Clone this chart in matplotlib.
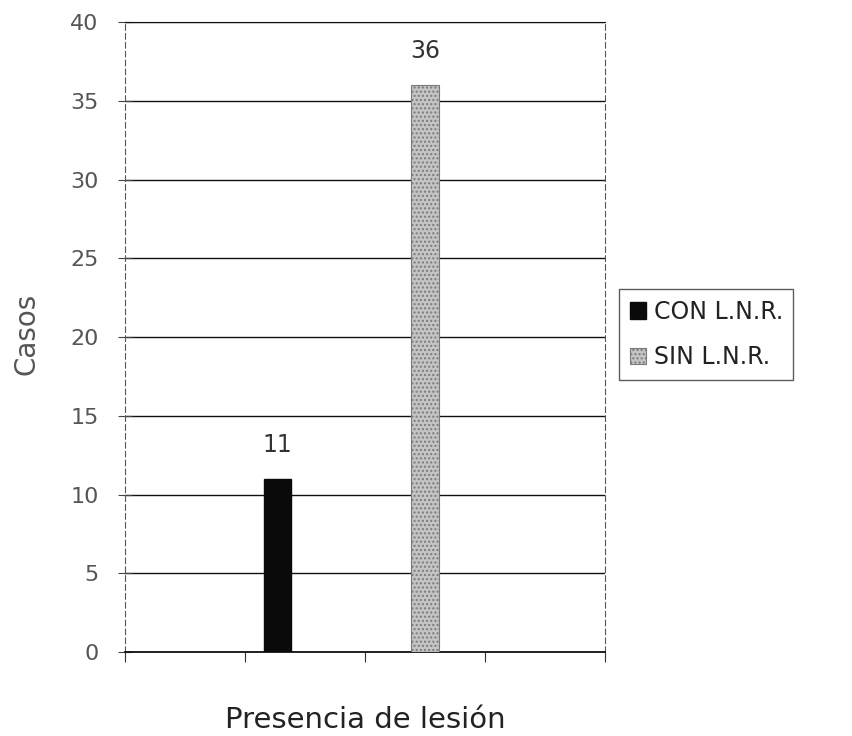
import matplotlib
matplotlib.use("Agg")
import matplotlib.pyplot as plt

series = ["CON L.N.R.", "SIN L.N.R."]
values = [11, 36]
yticks = [0, 5, 10, 15, 20, 25, 30, 35, 40]
xlabel = "Presencia de lesión"
ylabel = "Casos"

plt.rcParams['font.family'] = ['Liberation Sans', 'DejaVu Sans']

fig = plt.figure(figsize=(8.53, 7.36), dpi=100)
ax = fig.add_axes([0.1465, 0.114, 0.5625, 0.856])

xpos = [1.27, 2.5]
width = 0.23
b1 = ax.bar(xpos[0], values[0], width=width, color='#0a0a0a', edgecolor='#0a0a0a',
            label=series[0], zorder=3)
b2 = ax.bar(xpos[1], values[1], width=width, facecolor='#c4c4c4', edgecolor='#7a7a7a',
            hatch='....', linewidth=0.8, label=series[1], zorder=3)

for x, v in zip(xpos, values):
    ax.annotate(str(v), (x, v), xytext=(0, 16), textcoords='offset points',
                ha='center', va='bottom', fontsize=17, color='#333333',
                family=['DejaVu Sans'])

ax.set_xlim(0, 4)
ax.set_ylim(0, 40)
ax.set_yticks(yticks)
ax.set_xticks([0, 1, 2, 3, 4])
ax.set_xticklabels([])
ax.tick_params(axis='x', length=7, direction='out', color='#333333')
ax.tick_params(axis='y', length=10, direction='inout', pad=14, labelsize=16,
               labelcolor='#555555', color='#444444')
for lab in ax.get_yticklabels():
    lab.set_family(['DejaVu Sans'])
ax.yaxis.grid(True, color='#111111', linewidth=1.0, zorder=0)
ax.set_axisbelow(True)

ax.spines['top'].set_color('#111111')
ax.spines['bottom'].set_color('#111111')
ax.spines['bottom'].set_linewidth(1.3)
ax.spines['left'].set_linestyle((0, (5, 3)))
ax.spines['left'].set_color('#555555')
ax.spines['right'].set_linestyle((0, (5, 3)))
ax.spines['right'].set_color('#555555')

ax.set_ylabel(ylabel, fontsize=20, color='#555555', family=['DejaVu Sans'])
ax.yaxis.set_label_coords(-0.175, 0.505)
ax.set_xlabel(xlabel, fontsize=21, color='#222222', family=['DejaVu Sans'])
ax.xaxis.set_label_coords(0.5, -0.086)

leg = fig.legend(handles=[b1, b2], labels=series, loc='upper left',
                 bbox_to_anchor=(0.726, 0.607), frameon=True,
                 prop={'family': 'DejaVu Sans', 'size': 17},
                 fancybox=False, handlelength=0.7, handleheight=0.7,
                 handletextpad=0.3, borderpad=0.45, labelspacing=0.9,
                 borderaxespad=0, labelcolor='#222222')
leg.get_frame().set_edgecolor('#333333')
leg.get_frame().set_linewidth(1.0)

fig.savefig("out.png", dpi=100)
